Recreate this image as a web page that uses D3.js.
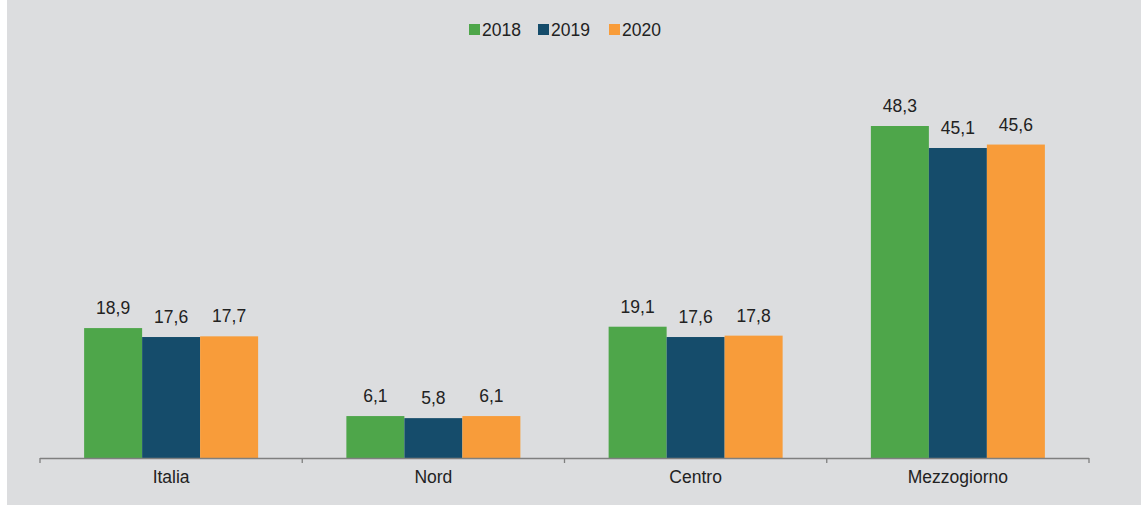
<!DOCTYPE html>
<html><head><meta charset="utf-8">
<script src="https://cdn.jsdelivr.net/npm/d3@7"></script>
<style>body{margin:0;background:#fff;}svg{display:block;font-family:"Liberation Sans",Arial,sans-serif;}</style>
</head><body><svg id="c" width="1147" height="506"></svg>
<script>
const categories = ["Italia","Nord","Centro","Mezzogiorno"];
const seriesNames = ["2018","2019","2020"];
const values2018 = [18.9, 6.1, 19.1, 48.3];
const values2019 = [17.6, 5.8, 17.6, 45.1];
const values2020 = [17.7, 6.1, 17.8, 45.6];
const colors = ["#4ea64a","#154c6b","#f89c3a"];
const series = [values2018, values2019, values2020];
const FS = 17.5;

const svg = d3.select("#c");
svg.append("rect").attr("x",7).attr("y",0).attr("width",1134).attr("height",505).attr("fill","#dcdddf");

const x0 = d3.scaleBand().domain(categories).range([40,1089]).paddingInner(0).paddingOuter(0);
const x1 = d3.scaleBand().domain(seriesNames).range([0,174]);
const y = d3.scaleLinear().domain([0,48.3]).range([458,126]);

const g = svg.append("g");
categories.forEach((c,i)=>{
  const gx = x0(c) + (x0.bandwidth()-174)/2;
  seriesNames.forEach((s,j)=>{
    const v = series[j][i];
    g.append("rect").attr("x",gx+x1(s)).attr("y",y(v)).attr("width",x1.bandwidth()).attr("height",458-y(v)).attr("fill",colors[j]);
    g.append("text").attr("x",gx+x1(s)+x1.bandwidth()/2).attr("y",y(v)-14).attr("text-anchor","middle")
      .attr("font-size",FS).attr("fill","#222").text(String(v.toFixed(1)).replace(".",","));
  });
});

const axis = d3.axisBottom(x0).tickSize(0).tickPadding(13);
const ag = svg.append("g").attr("transform","translate(0,458)").call(axis);
ag.select(".domain").remove();
ag.append("line").attr("x1",40).attr("x2",1089).attr("y1",0.5).attr("y2",0.5).attr("stroke","#7f7f7f").attr("stroke-width",1.3);
const bounds = [40].concat(categories.map(c=>x0(c)+x0.bandwidth()));
bounds.forEach(b=>ag.append("line").attr("x1",b).attr("x2",b).attr("y1",0).attr("y2",5).attr("stroke","#7f7f7f").attr("stroke-width",1.3));
ag.selectAll(".tick text").attr("font-size",FS).attr("fill","#222").attr("font-family","Liberation Sans, Arial, sans-serif");

const lg = svg.append("g");
const lx = [469, 538, 609];
seriesNames.forEach((s,j)=>{
  lg.append("rect").attr("x",lx[j]).attr("y",24).attr("width",11).attr("height",11).attr("fill",colors[j]);
  lg.append("text").attr("x",lx[j]+13).attr("y",36).attr("font-size",FS).attr("fill","#222").text(s);
});
</script></body></html>
